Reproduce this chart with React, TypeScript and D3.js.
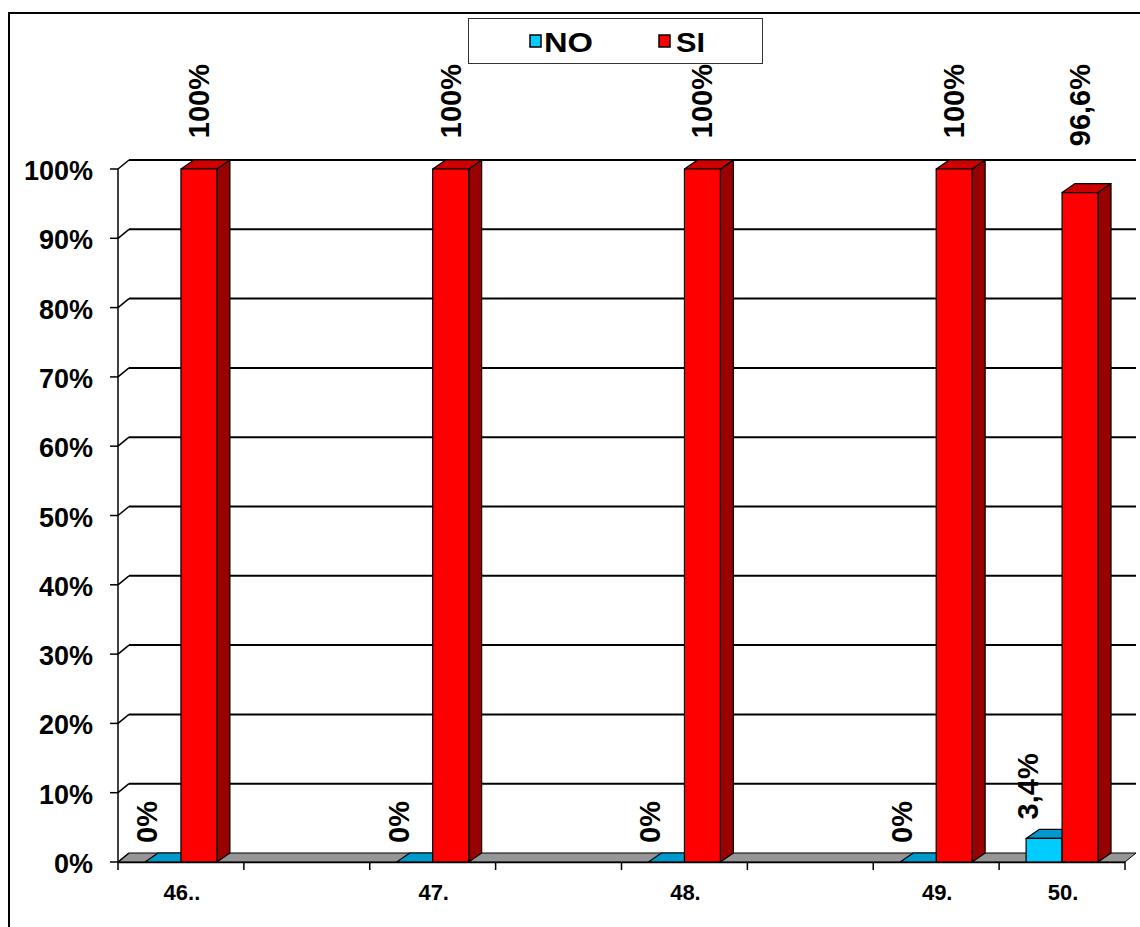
import React from "react";
import * as d3 from "d3";

const categories = ["46..", "", "47.", "", "48.", "", "49.", "50."];
const seriesNames = ["NO", "SI"];
const noValues: (number | null)[] = [0, null, 0, null, 0, null, 0, 3.4];
const siValues: (number | null)[] = [100, null, 100, null, 100, null, 100, 96.6];
const yTicks = [0, 10, 20, 30, 40, 50, 60, 70, 80, 90, 100];

const colors: Record<string, { front: string; top: string; side: string }> = {
  NO: { front: "#00CCFF", top: "#0099CC", side: "#007FA8" },
  SI: { front: "#FF0000", top: "#CC0000", side: "#990000" },
};

const FONT = "'Liberation Sans', Arial, Helvetica, sans-serif";

const fmt = (v: number) => (Number.isInteger(v) ? `${v}%` : `${v.toString().replace(".", ",")}%`);

export default function App() {
  const W = 1140;
  const H = 927;
  const left = 118;
  const right = 1125;
  const base = 862;
  const top = 169;
  const wdx = 11;
  const wdy = -9;
  const bdx = 13;
  const bdy = -9;

  const x = d3.scaleBand<string>().domain(categories.map((_, i) => String(i))).range([left, right]).padding(0);
  const xs = d3
    .scaleBand<string>()
    .domain(seriesNames)
    .range([0, x.bandwidth()])
    .paddingInner(0)
    .paddingOuter(0.75);
  const y = d3.scaleLinear().domain([0, 100]).range([base, top]);

  const bars: { key: string; s: string; x0: number; w: number; v: number }[] = [];
  categories.forEach((_, i) => {
    const vals: Record<string, number | null> = { NO: noValues[i], SI: siValues[i] };
    seriesNames.forEach((s) => {
      const v = vals[s];
      if (v === null || v === undefined) return;
      bars.push({ key: `${i}-${s}`, s, x0: (x(String(i)) as number) + (xs(s) as number), w: xs.bandwidth(), v });
    });
  });

  const pts = (p: [number, number][]) => p.map((q) => q.join(",")).join(" ");

  return (
    <svg width={W} height={H} style={{ position: "absolute", left: 0, top: 0, background: "#fff" }} fontFamily={FONT}>
      <rect x={0} y={0} width={W} height={H} fill="#fff" />
      {/* outer frame */}
      <rect x={9} y={13} width={W + 20} height={H + 20} fill="none" stroke="#000" strokeWidth={2} />

      {/* floor */}
      <polygon
        points={pts([
          [left, base],
          [right, base],
          [right + wdx, base + wdy],
          [left + wdx, base + wdy],
        ])}
        fill="#969696"
        stroke="#000"
        strokeWidth={1}
      />

      {/* gridlines on back wall with axis ticks */}
      {yTicks.map((t) => {
        const yy = y(t);
        return (
          <g key={t}>
            <line x1={left - 8} x2={left} y1={yy} y2={yy} stroke="#000" strokeWidth={1.5} />
            <line x1={left} x2={left + wdx} y1={yy} y2={yy + wdy} stroke="#000" strokeWidth={1.5} />
            {t > 0 && (
              <line x1={left + wdx} x2={right + wdx} y1={yy + wdy} y2={yy + wdy} stroke="#000" strokeWidth={2} />
            )}
            <text
              x={93}
              y={yy + 2}
              textAnchor="end"
              dominantBaseline="central"
              fontSize={27}
              fontWeight="bold"
              fill="#000"
            >
              {`${t}%`}
            </text>
          </g>
        );
      })}
      <line x1={left} x2={left} y1={top} y2={base} stroke="#000" strokeWidth={1.5} />

      {/* bars */}
      {bars.map((b) => {
        const c = colors[b.s];
        const yt = y(b.v);
        const x0 = b.x0;
        const x1 = b.x0 + b.w;
        return (
          <g key={b.key} stroke="#000" strokeWidth={1.2} strokeLinejoin="round">
            <polygon
              points={pts([
                [x1, yt],
                [x1 + bdx, yt + bdy],
                [x1 + bdx, base + bdy],
                [x1, base],
              ])}
              fill={c.side}
            />
            <polygon
              points={pts([
                [x0, yt],
                [x1, yt],
                [x1 + bdx, yt + bdy],
                [x0 + bdx, yt + bdy],
              ])}
              fill={c.top}
            />
            {base - yt > 0 && <rect x={x0} y={yt} width={b.w} height={base - yt} fill={c.front} />}
          </g>
        );
      })}

      {/* x axis */}
      <line x1={left} x2={right} y1={base + 0.5} y2={base + 0.5} stroke="#000" strokeWidth={1.5} />
      {d3.range(categories.length + 1).map((i) => {
        const xx = left + i * x.step();
        return <line key={i} x1={xx} x2={xx} y1={base} y2={base + 8} stroke="#000" strokeWidth={1.5} />;
      })}
      {categories.map((c, i) => (
        <text
          key={i}
          x={(x(String(i)) as number) + x.bandwidth() / 2 + 1}
          y={900}
          textAnchor="middle"
          fontSize={22}
          fontWeight="bold"
          fill="#000"
        >
          {c}
        </text>
      ))}

      {/* data labels */}
      {bars.map((b) => {
        const cx = b.x0 + b.w / 2;
        if (b.s === "NO") {
          const yy = y(b.v) - 19;
          return (
            <text
              key={`l-${b.key}`}
              transform={`translate(${cx - 16},${yy}) rotate(-90)`}
              textAnchor="start"
              dominantBaseline="central"
              fontSize={29}
              fontWeight="bold"
              fill="#000"
            >
              {fmt(b.v)}
            </text>
          );
        }
        const yy = y(100) - 105;
        return (
          <text
            key={`l-${b.key}`}
            transform={`translate(${cx},${yy}) rotate(-90)`}
            textAnchor="end"
            dominantBaseline="central"
            fontSize={29}
            fontWeight="bold"
            fill="#000"
          >
            {fmt(b.v)}
          </text>
        );
      })}

      {/* legend */}
      <g>
        <rect x={468.5} y={18.5} width={294} height={45} fill="#fff" stroke="#333" strokeWidth={1} />
        <rect x={530} y={35} width={11} height={12} fill={colors.NO.front} stroke="#000" strokeWidth={1.5} />
        <text x={544} y={52} fontSize={27} fontWeight="bold" fill="#000" textLength={49} lengthAdjust="spacingAndGlyphs">
          NO
        </text>
        <rect x={659} y={35} width={11} height={12} fill={colors.SI.front} stroke="#000" strokeWidth={1.5} />
        <text x={676} y={52} fontSize={27} fontWeight="bold" fill="#000" textLength={29} lengthAdjust="spacingAndGlyphs">
          SI
        </text>
      </g>
    </svg>
  );
}
